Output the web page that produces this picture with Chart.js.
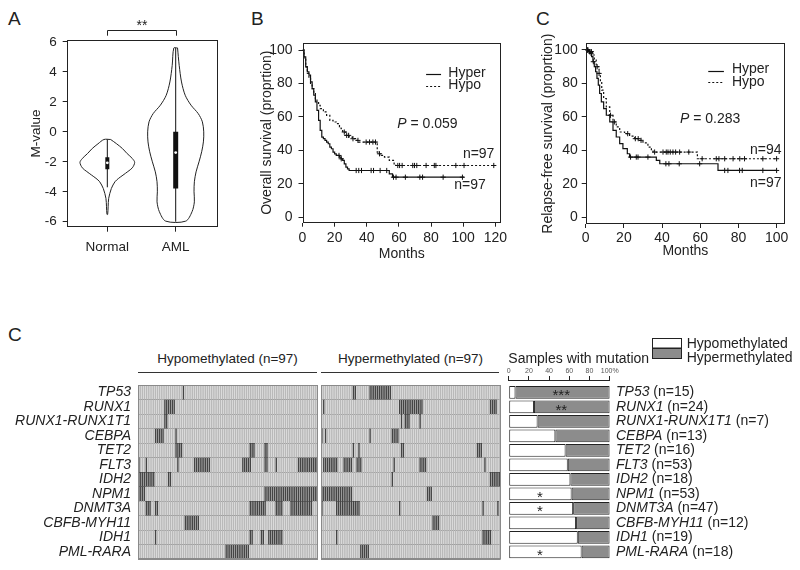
<!DOCTYPE html>
<html>
<head>
<meta charset="utf-8">
<script src="https://cdn.jsdelivr.net/npm/chart.js@4.4.1/dist/chart.umd.min.js"></script>
<style>
  html, body { margin: 0; padding: 0; background: #fff; }
  body { position: relative; width: 800px; height: 570px; overflow: hidden;
         font-family: "Liberation Sans", Arial, sans-serif; color: #222; }
  canvas { position: absolute; }
  .lbl { position: absolute; white-space: nowrap; line-height: 1; }
  .panel { font-size: 19px; }
  .head { font-size: 13.5px; text-align: center; }
  .rule { position: absolute; height: 0; border-top: 1px solid #333; }
</style>
</head>
<body>
<div class="lbl panel" style="left:8px;top:9px">A</div>
<div class="lbl panel" style="left:251px;top:9px">B</div>
<div class="lbl panel" style="left:536px;top:9px">C</div>
<div class="lbl panel" style="left:8px;top:325px">C</div>
<div class="lbl head" style="left:138px;top:352px;width:179px">Hypomethylated (n=97)</div>
<div class="lbl head" style="left:321px;top:352px;width:179px">Hypermethylated (n=97)</div>
<div class="rule" style="left:138px;top:372px;width:179px"></div>
<div class="rule" style="left:321px;top:372px;width:178px"></div>

<canvas id="violin" width="255" height="290" style="left:0;top:0"></canvas>
<canvas id="osPlot" width="265" height="290" style="left:255px;top:0"></canvas>
<canvas id="rfsPlot" width="280" height="290" style="left:520px;top:0"></canvas>
<canvas id="heatHypo" width="320" height="206" style="left:0;top:369px"></canvas>
<canvas id="heatHyper" width="185" height="206" style="left:320px;top:369px"></canvas>
<canvas id="mutBars" width="295" height="237" style="left:505px;top:328px"></canvas>

<script>
const FONT = '"Liberation Sans", Arial, Helvetica, sans-serif';
Chart.defaults.font.family = FONT;
Chart.defaults.color = '#222';
Chart.defaults.animation = false;
Chart.defaults.plugins.legend.display = false;
Chart.defaults.plugins.tooltip.enabled = false;

// ---- panel A: M-value violins
const violinGroups = ['Normal', 'AML'];
const mTicks = [-6, -4, -2, 0, 2, 4, 6];
const normalLevels = [-0.51, -0.8, -1.11, -1.45, -1.78, -2.04, -2.4, -2.65, -2.89, -3.1, -3.33, -3.78, -4.44, -5.0, -5.51];
const normalWidth  = [0.049, 0.137, 0.22, 0.29, 0.366, 0.4, 0.366, 0.3, 0.229, 0.166, 0.112, 0.059, 0.02, 0.012, 0.005];
const amlLevels = [5.6, 4.44, 3.33, 2.44, 1.78, 1.22, 0.67, 0, -0.67, -1.33, -2, -2.67, -3.33, -4, -4.67, -5.33, -5.96];
const amlWidth  = [0.027, 0.051, 0.085, 0.139, 0.224, 0.329, 0.39, 0.41, 0.405, 0.38, 0.341, 0.298, 0.273, 0.268, 0.273, 0.239, 0.146];
const boxLow = [-2.5, -3.78];
const boxHigh = [-1.7, 0];
const medians = [-2.07, -1.38];
const whiskerLow = [-3.7, -6];
const whiskerHigh = [-0.5, 5.6];

// ---- panel B: overall survival (Kaplan-Meier)
const survTicks = [0, 20, 40, 60, 80, 100];
const osMonthTicks = [0, 20, 40, 60, 80, 100, 120];
const osHyperT = [0,1,2,3,4,5,6,7,8,9,10,11,12,13,14,15,16,17,18,19,20,21,23,24,25,26,27,28,29,54,56,100.5];
const osHyperS = [100,96,90,87,85,81,77,73,69,64,58,52,48,47,46,45,44,42,41,39,38,37,36,35,34,32,30,29,28,26,24,24];
const osHyperCens = [22.7, 24.1, 33.4, 35, 36.7, 42.7, 44.2, 48.3, 52.4, 56.6, 58.2, 64, 73, 74.7, 87.5, 99.5];
const osHypoT = [0,1,2,3,4,5,6,7,8,9,10,11,13,15,17,19,21,23,24,25,27,29,31,33,35,46.5,47,49,51,54,57,58,119];
const osHypoS = [100,95,90,86,83,80,77,74,71,69,67,65,63,61,58,57,56,54,53,51,49,48,47,46,45,39,38,37,36,34,32,31,31];
const osHypoCens = [26, 27.5, 28.7, 31.4, 34.5, 39.6, 41.7, 43.8, 45.4, 47.9, 59.3, 60.4, 62, 68.6, 69.7, 71.1, 76.9, 82, 83, 95.4, 100.5, 119];

// ---- panel C: relapse-free survival
const rfsMonthTicks = [0, 20, 40, 60, 80, 100];
const rfsHyperT = [0,1.5,2.4,3.1,3.8,4.5,5.2,5.9,6.6,7.3,8.2,9.4,10.8,12.6,14.3,16,17.8,19.5,21.8,23,37,38.8,69.3,100];
const rfsHyperS = [100,99,98,96,93,90,87,83,79,74,69,65,61,57,52,48,44,41,38,36,34,32,28,28];
const rfsHyperCens = [0.5, 1, 2, 2.8, 4, 23.5, 26.5, 27.4, 32.6, 42, 43.6, 49, 59.7, 72.8, 74.5, 80.6, 82, 92.8, 100];
const rfsHypoT = [0,2,3.5,4.5,5.5,7,7.7,8.4,9.4,10.8,12.6,14.3,16,17.8,20.4,23,25.7,28.3,30,32.6,34.4,35.3,58.5,100];
const rfsHypoS = [100,99,97,94,90,86,81,76,71,66,61,57,54,51,50,48.5,47,46,44.5,42,40,39,35,35];
const rfsHypoCens = [0.8, 1.2, 2.2, 3, 6, 7, 13, 15, 22, 26, 27.5, 29, 36.1, 40.5, 42.2, 43.1, 44.3, 45.7, 47.1, 49.2, 54, 61, 68.4, 69.8, 72.8, 77.2, 80.7, 83.2, 92.8, 100];

// ---- bottom panel: mutation map, runs of mutated samples as [first column, count]
const genes = ['TP53', 'RUNX1', 'RUNX1-RUNX1T1', 'CEBPA', 'TET2', 'FLT3', 'IDH2', 'NPM1', 'DNMT3A', 'CBFB-MYH11', 'IDH1', 'PML-RARA'];
const hypoRuns = [
  [[24,1]], [[14,6]], [[14,2]], [[9,5],[20,1]], [[20,4],[60,3],[68,2]],
  [[0,1],[4,1],[21,1],[30,9],[56,5],[68,2],[74,1],[86,11]],
  [[0,9],[16,2]], [[0,4],[68,29]], [[4,3],[9,2],[60,9],[74,4],[82,12]],
  [[25,8]], [[9,1],[60,2],[66,2],[70,8]], [[47,13]]
];
const hyperRuns = [
  [[17,2],[26,12]], [[1,1],[42,13],[91,4]], [[43,1],[45,3],[53,1]], [[0,1],[2,1],[26,1],[38,4]],
  [[17,1],[20,1],[43,2],[84,3]], [[1,8],[12,5],[19,3],[39,1],[53,4],[88,1]],
  [[38,1],[91,6]], [[0,17],[57,3]], [[0,1],[8,13],[42,1],[87,1],[95,1]],
  [[60,4]], [[8,1],[87,5]], [[21,5]]
];
const hypoPct  = [6.7, 25, 28.6, 46.2, 56.3, 58.5, 61.1, 62.3, 63.8, 66.7, 68.4, 72.2];
const hyperPct = [93.3, 75, 71.4, 53.8, 43.7, 41.5, 38.9, 37.7, 36.2, 33.3, 31.6, 27.8];
const barN = [15, 24, 7, 13, 16, 53, 18, 53, 47, 12, 19, 18];
const sigMarks = ['***', '**', '', '', '', '', '', '*', '*', '', '', '*'];
const pctTicks = [0, 20, 40, 60, 80, 100];

const CELL_LIGHT = '#b9b9b9';
const CELL_DARK = '#444444';

// helpers
function fixWidth(w) { return s => { s.width = w; }; }
function fixHeight(h) { return s => { s.height = h; }; }
function setTicks(list) { return s => { s.ticks = list.map(v => ({value: v})); }; }
function stepAt(t, times, surv) {
  let v = surv[0];
  for (let i = 0; i < times.length; i++) { if (times[i] <= t) v = surv[i]; }
  return v;
}
function drawParts(ctx, x, y, parts, size, align) {
  const fonts = parts.map(p => (p[1] ? 'italic ' : '') + size + 'px ' + FONT);
  let w = 0;
  parts.forEach((p, i) => { ctx.font = fonts[i]; w += ctx.measureText(p[0]).width; });
  let cx = align === 'right' ? x - w : (align === 'center' ? x - w / 2 : x);
  ctx.textAlign = 'left';
  parts.forEach((p, i) => { ctx.font = fonts[i]; ctx.fillText(p[0], cx, y); cx += ctx.measureText(p[0]).width; });
}

// frame round the plot area
const framePlugin = {
  id: 'frame',
  afterDraw(chart, args, opts) {
    if (!opts || !opts.color) return;
    const {ctx, chartArea: a} = chart;
    ctx.save();
    ctx.strokeStyle = opts.color;
    ctx.lineWidth = 1;
    const l = Math.round(a.left) + 0.5, t = Math.round(a.top) + 0.5;
    ctx.strokeRect(l, t, Math.round(a.right) - Math.round(a.left) - 1, Math.round(a.bottom) - Math.round(a.top) - 1);
    ctx.restore();
  }
};
// text and legend samples placed in data coordinates
const notesPlugin = {
  id: 'notes',
  afterDraw(chart, args, opts) {
    if (!opts || !opts.items) return;
    const {ctx, scales: {x, y}} = chart;
    ctx.save();
    ctx.fillStyle = '#222';
    ctx.strokeStyle = '#111';
    ctx.textBaseline = 'middle';
    opts.items.forEach(it => {
      if (it.line) {
        ctx.lineWidth = 1.2;
        ctx.setLineDash(it.dash || []);
        const py = Math.round(y.getPixelForValue(it.y)) + 0.5;
        ctx.beginPath();
        ctx.moveTo(x.getPixelForValue(it.line[0]), py);
        ctx.lineTo(x.getPixelForValue(it.line[1]), py);
        ctx.stroke();
        ctx.setLineDash([]);
      } else {
        drawParts(ctx, x.getPixelForValue(it.x), y.getPixelForValue(it.y), it.parts, 14, it.align || 'left');
      }
    });
    ctx.restore();
  }
};
Chart.register(framePlugin, notesPlugin);

// ---------- A: violins
function violinOutline(center, levels, widths) {
  const right = levels.map((v, i) => ({x: center + widths[i], y: v}));
  const left = levels.map((v, i) => ({x: center - widths[i], y: v})).reverse();
  return right.concat(left, [right[0]]);
}
const violinSets = [
  { data: medians.map((m, i) => ({x: i + 1, y: m})), showLine: false, pointRadius: 1.4,
    pointBackgroundColor: '#fff', pointBorderWidth: 0 }
];
violinGroups.forEach((g, i) => {
  violinSets.push({ data: [{x: i + 1, y: boxLow[i]}, {x: i + 1, y: boxHigh[i]}],
    borderColor: '#111', borderWidth: i === 0 ? 4 : 5, borderCapStyle: 'butt', pointRadius: 0 });
  violinSets.push({ data: [{x: i + 1, y: whiskerLow[i]}, {x: i + 1, y: whiskerHigh[i]}],
    borderColor: '#111', borderWidth: 1, pointRadius: 0 });
});
violinSets.push({ data: violinOutline(1, normalLevels, normalWidth), borderColor: '#222', borderWidth: 1, pointRadius: 0, tension: 0.3 });
violinSets.push({ data: violinOutline(2, amlLevels, amlWidth), borderColor: '#222', borderWidth: 1, pointRadius: 0, tension: 0.3 });

const bracketPlugin = {
  id: 'sigBracket',
  afterDraw(chart) {
    const {ctx, chartArea: a, scales: {x}} = chart;
    const x1 = Math.round(x.getPixelForValue(1)) + 0.5, x2 = Math.round(x.getPixelForValue(2)) + 0.5;
    const top = Math.round(a.top - 10.3) + 0.5, leg = a.top - 4.6;
    ctx.save();
    ctx.strokeStyle = '#222'; ctx.lineWidth = 1;
    ctx.beginPath();
    ctx.moveTo(x1, leg); ctx.lineTo(x1, top); ctx.lineTo(x2, top); ctx.lineTo(x2, leg);
    ctx.stroke();
    ctx.fillStyle = '#222';
    ctx.font = '14px ' + FONT;
    ctx.textAlign = 'center';
    ctx.textBaseline = 'alphabetic';
    ctx.fillText('**', (x1 + x2) / 2, a.top - 10.8);
    ctx.restore();
  }
};

new Chart(document.getElementById('violin'), {
  type: 'line',
  data: { datasets: violinSets },
  options: {
    responsive: false,
    layout: { padding: { left: 0, top: 40.3, right: 36.7, bottom: 23.3 } },
    scales: {
      x: { type: 'linear', min: 0.406, max: 2.623, afterFit: fixHeight(40), afterBuildTicks: setTicks([1, 2]),
           grid: { drawOnChartArea: false, tickLength: 5, color: '#222' }, border: { display: false },
           ticks: { font: { size: 13.5 }, padding: 7, maxRotation: 0, autoSkip: false, callback: (v, i) => violinGroups[i] } },
      y: { min: -6.33, max: 6.11, afterFit: fixWidth(66.7), afterBuildTicks: setTicks(mTicks),
           grid: { drawOnChartArea: false, tickLength: 4, color: '#222' }, border: { display: false },
           ticks: { font: { size: 13.5 }, padding: 6, autoSkip: false },
           title: { display: true, text: 'M-value', font: { size: 13.5 }, padding: { top: 28, bottom: 0 } } }
    },
    plugins: { frame: { color: '#222' } }
  },
  plugins: [bracketPlugin]
});

// ---------- B, C: survival curves
function kmChart(id, c) {
  const cens = (times, T, S) => times.map(t => ({x: t, y: stepAt(t, T, S)}));
  const cross = { showLine: false, pointStyle: 'cross', pointRadius: 2.6, pointBorderWidth: 1,
                  pointBorderColor: '#111', pointBackgroundColor: '#111', borderColor: '#111' };
  return new Chart(document.getElementById(id), {
    type: 'line',
    data: { datasets: [
      Object.assign({ data: cens(c.hyperCens, c.hyperT, c.hyperS) }, cross),
      Object.assign({ data: cens(c.hypoCens, c.hypoT, c.hypoS) }, cross),
      { data: c.hyperT.map((t, i) => ({x: t, y: c.hyperS[i]})), stepped: true,
        borderColor: '#111', borderWidth: 1.2, pointRadius: 0 },
      { data: c.hypoT.map((t, i) => ({x: t, y: c.hypoS[i]})), stepped: true,
        borderColor: '#111', borderWidth: 1.2, borderDash: [2, 2], pointRadius: 0 }
    ] },
    options: {
      responsive: false,
      layout: { padding: c.pad },
      scales: {
        x: { type: 'linear', min: 0, max: c.xMax, afterFit: fixHeight(40), afterBuildTicks: setTicks(c.xTicks),
             grid: { drawOnChartArea: false, tickLength: 4, color: '#222' }, border: { display: false },
             ticks: { font: { size: 14 }, padding: c.xPad, maxRotation: 0, autoSkip: false },
             title: { display: true, text: 'Months', font: { size: 14 }, padding: { top: 0, bottom: c.monthsPad } } },
        y: { min: c.yMin, max: c.yMax, afterFit: fixWidth(c.yWidth), afterBuildTicks: setTicks(survTicks),
             grid: { drawOnChartArea: false, tickLength: 4, color: '#222' }, border: { display: false },
             ticks: { font: { size: 14 }, padding: c.yPad, autoSkip: false },
             title: { display: true, text: c.yTitle, font: { size: 14 }, padding: { top: c.titlePad, bottom: 0 } } }
      },
      plugins: { frame: { color: '#222' }, notes: { items: c.notes } }
    }
  });
}

kmChart('osPlot', {
  hyperT: osHyperT, hyperS: osHyperS, hyperCens: osHyperCens,
  hypoT: osHypoT, hypoS: osHypoS, hypoCens: osHypoCens,
  xMax: 123.5, xTicks: osMonthTicks, yMin: -3.2, yMax: 104.4,
  pad: { left: 0, top: 42.7, right: 19, bottom: 27.3 },
  yWidth: 47.5, xPad: 3, yPad: 6, monthsPad: 0, titlePad: 3.3,
  yTitle: 'Overall survival (proprtion)',
  notes: [
    { line: [76.9, 86.2], y: 85.7 },
    { line: [76.9, 86.2], y: 78.5, dash: [2, 2] },
    { x: 90.7, y: 86, parts: [['Hyper']] },
    { x: 90.7, y: 79, parts: [['Hypo']] },
    { x: 59, y: 55.7, parts: [['P', true], [' = 0.059']] },
    { x: 119.4, y: 38, parts: [['n=97']], align: 'right' },
    { x: 114, y: 19.5, parts: [['n=97']], align: 'right' }
  ]
});

kmChart('rfsPlot', {
  hyperT: rfsHyperT, hyperS: rfsHyperS, hyperCens: rfsHyperCens,
  hypoT: rfsHypoT, hypoS: rfsHypoS, hypoCens: rfsHypoCens,
  xMax: 104.4, xTicks: rfsMonthTicks, yMin: -4, yMax: 104,
  pad: { left: 0, top: 43.3, right: 15, bottom: 26 },
  yWidth: 65.7, xPad: 1.5, yPad: 4, monthsPad: 4, titlePad: 19.9,
  yTitle: 'Relapse-free survival (proprtion)',
  notes: [
    { line: [64.2, 72.4], y: 87.6 },
    { line: [64.2, 72.4], y: 81, dash: [2, 2] },
    { x: 76.6, y: 88.4, parts: [['Hyper']] },
    { x: 76.6, y: 80.9, parts: [['Hypo']] },
    { x: 49.4, y: 58.8, parts: [['P', true], [' = 0.283']] },
    { x: 102.6, y: 40.2, parts: [['n=94']], align: 'right' },
    { x: 102.6, y: 20.3, parts: [['n=97']], align: 'right' }
  ]
});

// ---------- bottom: mutation map
const colLabels = Array.from({length: 97}, (_, i) => String(i + 1));
function heatDatasets(runs) {
  return genes.map((g, gi) => {
    const fill = colLabels.map(() => CELL_LIGHT);
    runs[gi].forEach(([start, len]) => {
      for (let c = start; c < start + len; c++) fill[c] = CELL_DARK;
    });
    return { label: g, data: colLabels.map(() => [gi, gi + 1]), backgroundColor: fill,
             grouped: false, categoryPercentage: 0.8, barPercentage: 1, borderWidth: 0, inflateAmount: 0 };
  });
}
function heatChart(id, runs, showLabels, pad) {
  return new Chart(document.getElementById(id), {
    type: 'bar',
    data: { labels: colLabels, datasets: heatDatasets(runs) },
    options: {
      responsive: false,
      layout: { padding: pad },
      scales: {
        x: { display: false },
        y: { type: 'linear', reverse: true, min: 0, max: 12, z: 1,
             afterBuildTicks: setTicks(genes.map((_, i) => i + 0.5)),
             afterFit: fixWidth(showLabels ? 138 : 0),
             grid: { offset: true, drawTicks: false, color: '#8a8a8a' },
             border: { display: false },
             ticks: { display: showLabels, autoSkip: false, padding: 7, font: { size: 14, style: 'italic' }, color: '#222',
                      callback: (v, i) => genes[i] } }
      },
      plugins: { frame: { color: '#8a8a8a' } }
    }
  });
}
heatChart('heatHypo', hypoRuns, true, { left: 0, right: 2, top: 16, bottom: 16 });
heatChart('heatHyper', hyperRuns, false, { left: 1, right: 4.3, top: 16, bottom: 16 });

// ---------- bottom right: share of samples with mutation
const mutLabelsPlugin = {
  id: 'mutLabels',
  afterDraw(chart) {
    const {ctx, chartArea: a, scales: {x, y}} = chart;
    ctx.save();
    ctx.fillStyle = '#222';
    ctx.textBaseline = 'middle';
    genes.forEach((g, i) => {
      drawParts(ctx, a.right + 6.3, y.getPixelForValue(i), [[g, true], [' (n=' + barN[i] + ')']], 14, 'left');
    });
    ctx.font = '15px ' + FONT;
    ctx.textAlign = 'center';
    ctx.textBaseline = 'alphabetic';
    sigMarks.forEach((m, i) => {
      if (!m) return;
      const v = m.length > 1 ? 52 : 31;
      ctx.fillText(m, x.getPixelForValue(v), y.getPixelForValue(i) + 8);
    });
    // heading and legend
    ctx.textAlign = 'left';
    ctx.font = '14px ' + FONT;
    ctx.fillText('Samples with mutation', 3.3, 35.3);
    const ds = chart.data.datasets;
    ctx.strokeStyle = '#222';
    ctx.lineWidth = 1;
    ctx.fillStyle = ds[0].backgroundColor;
    ctx.fillRect(147, 10, 30, 10); ctx.strokeRect(147.5, 10.5, 29, 9.5);
    ctx.fillStyle = ds[1].backgroundColor;
    ctx.fillRect(147, 20, 30, 10.5); ctx.strokeRect(147.5, 20.5, 29, 10);
    ctx.fillStyle = '#222';
    ctx.fillText('Hypomethylated', 181.7, 19.7);
    ctx.fillText('Hypermethylated', 181.7, 33.7);
    ctx.restore();
  }
};

new Chart(document.getElementById('mutBars'), {
  type: 'bar',
  data: { datasets: [
    { label: 'Hypomethylated', data: hypoPct.map((v, i) => ({x: v, y: i})), backgroundColor: '#ffffff' },
    { label: 'Hypermethylated', data: hyperPct.map((v, i) => ({x: v, y: i})), backgroundColor: '#8c8c8c' }
  ] },
  options: {
    indexAxis: 'y',
    responsive: false,
    layout: { padding: { left: 3.7, right: 190.3, top: 32, bottom: 6 } },
    datasets: { bar: { barPercentage: 0.876, categoryPercentage: 1, borderColor: '#222', borderWidth: 1,
                       borderSkipped: false, inflateAmount: 0 } },
    scales: {
      x: { type: 'linear', position: 'top', stacked: true, min: 0, max: 100, afterFit: fixHeight(20),
           afterBuildTicks: setTicks(pctTicks),
           grid: { drawOnChartArea: false, tickLength: 4, color: '#222' }, border: { display: true, color: '#222' },
           ticks: { font: { size: 7 }, color: '#555', padding: 1, maxRotation: 0, autoSkip: false,
                    callback: v => v === 100 ? '100%' : v } },
      y: { type: 'linear', display: false, stacked: true, reverse: true, offset: false, min: -0.85, max: 11.49,
           afterBuildTicks: setTicks(genes.map((_, i) => i)) }
    }
  },
  plugins: [mutLabelsPlugin]
});
</script>
</body>
</html>
